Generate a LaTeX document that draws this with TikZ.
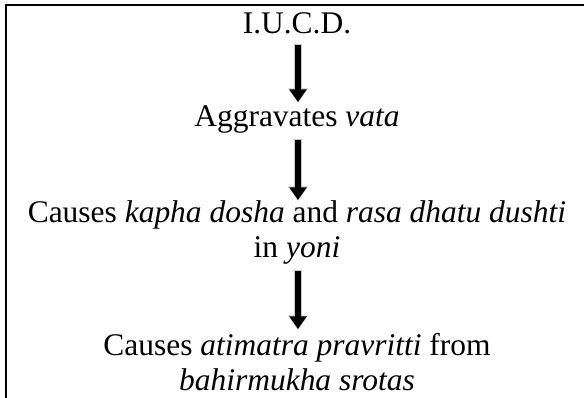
\documentclass[tikz,border=0pt]{standalone}
\usepackage{fontspec}
\setmainfont{Liberation Serif}
\usetikzlibrary{arrows.meta,calc}
\tikzset{
  flowtext/.style={inner sep=0pt, anchor=base, align=center, font=\fontsize{23.6pt}{26.25pt}\selectfont},
  flowarrowshadow/.style={draw=black!22, line width=6.6pt, -{Triangle[length=11pt,width=14.5pt]}},
  flowarrow/.style={draw=black, line width=5pt, -{Triangle[length=9.5pt,width=12.5pt]}},
  frameline/.style={draw=black, line width=1.2pt}
}
\begin{document}
\begin{tikzpicture}[x=0.75pt,y=-0.75pt]
\useasboundingbox (0,0) rectangle (584,398);
\draw[frameline] (584,4.8) -- (5.8,4.8) -- (5.8,398);
\node[flowtext] (n1) at (297,34) {I.U.C.D.};
\node[flowtext] (n2) at (297,127) {Aggravates \textit{vata}};
\node[flowtext] (n3) at (297,258) {Causes \textit{kapha dosha} and \textit{rasa dhatu dushti}\\ in \textit{yoni}};
\node[flowtext] (n4) at (297,390) {Causes \textit{atimatra pravritti} from\\ \textit{bahirmukha srotas}};
\foreach \a/\b/\s/\e in {n1/n2/11/-25, n2/n3/13/-58, n3/n4/13/-61}{
  \draw[flowarrowshadow] ($(\a.base)+(1,\s-1)$) -- ($(\b.base)+(1,\e+1)$);
  \draw[flowarrow] ($(\a.base)+(1,\s)$) -- ($(\b.base)+(1,\e)$);
}
\end{tikzpicture}
\end{document}
